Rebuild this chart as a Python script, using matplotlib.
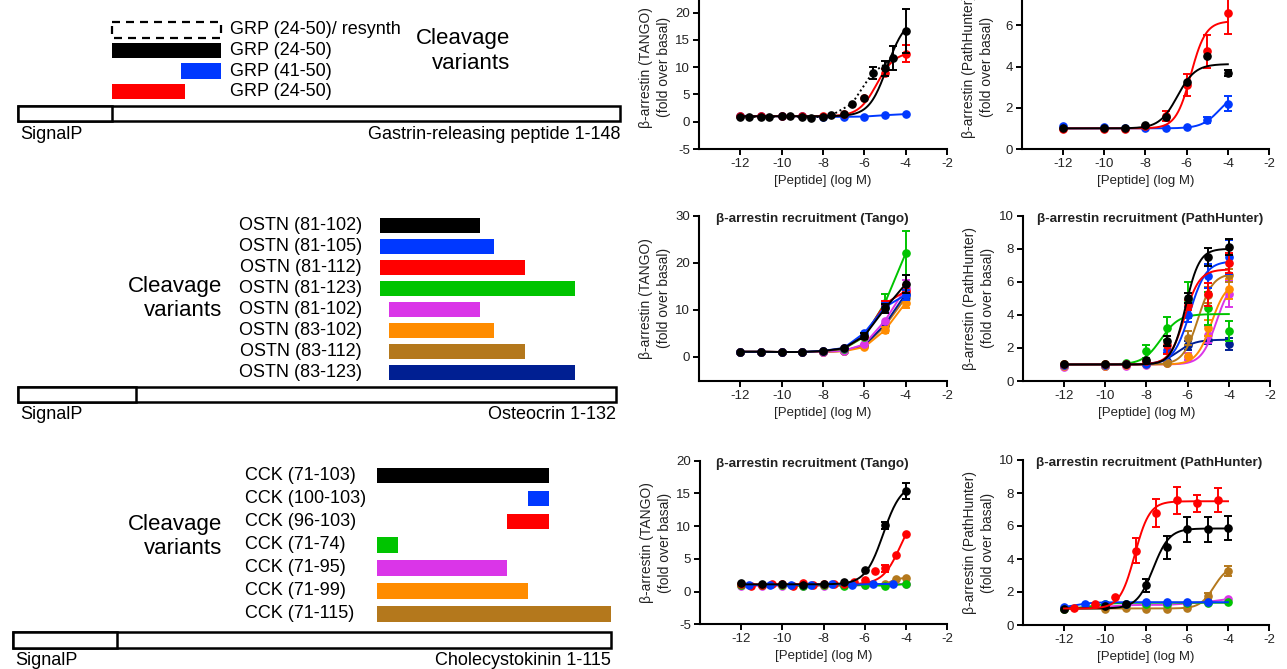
import numpy as np
import matplotlib
matplotlib.use("Agg")
import matplotlib.pyplot as plt

plt.rcParams['font.family'] = ['Liberation Sans', 'DejaVu Sans']
plt.rcParams['axes.unicode_minus'] = False

W, H = 1287, 669

BLACK = '#000000'
BLUE = '#0038FF'
RED = '#FF0000'
GREEN = '#00C400'
MAGENTA = '#DA35E8'
ORANGE = '#FF8C00'
BROWN = '#B4781C'
NAVY = '#001F92'

# ---------------- cleavage diagrams ----------------
grp_length = 148
grp_signal = 23
grp_labels = ['GRP (24-50)/ resynth', 'GRP (24-50)', 'GRP (41-50)', 'GRP (24-50)']
grp_start = [24, 24, 41, 24]
grp_end = [50, 50, 50, 41]
grp_colors = ['none', BLACK, BLUE, RED]

ostn_length = 132
ostn_signal = 26
ostn_labels = ['OSTN (81-102)', 'OSTN (81-105)', 'OSTN (81-112)', 'OSTN (81-123)',
               'OSTN (81-102)', 'OSTN (83-102)', 'OSTN (83-112)', 'OSTN (83-123)']
ostn_start = [81, 81, 81, 81, 83, 83, 83, 83]
ostn_end = [102, 105, 112, 123, 102, 105, 112, 123]
ostn_colors = [BLACK, BLUE, RED, GREEN, MAGENTA, ORANGE, BROWN, NAVY]

cck_length = 115
cck_signal = 20
cck_labels = ['CCK (71-103)', 'CCK (100-103)', 'CCK (96-103)', 'CCK (71-74)',
              'CCK (71-95)', 'CCK (71-99)', 'CCK (71-115)']
cck_start = [71, 100, 96, 71, 71, 71, 71]
cck_end = [103, 103, 103, 74, 95, 99, 115]
cck_colors = [BLACK, BLUE, RED, GREEN, MAGENTA, ORANGE, BROWN]

# ---------------- GRP dose-response ----------------
grp_x = [-12, -11, -10, -9, -8, -7, -6, -5, -4]
grp_x_resynth = [-11.6, -10.6, -9.6, -8.6, -7.6, -6.6, -5.6, -4.6]
grp_tango_black = [0.8, 0.9, 1.0, 0.9, 0.8, 1.45, 4.4, 9.8, 16.6]
grp_tango_black_err = [0, 0, 0, 0, 0, 0, 0, 1.4, 4.0]
grp_tango_black_fit = [1.0, 19.0, -4.9, 1.0]
grp_tango_resynth = [0.9, 0.9, 1.0, 0.75, 1.15, 3.3, 9.0, 11.6]
grp_tango_resynth_err = [0, 0, 0, 0, 0, 0, 1.1, 2.2]
grp_tango_red = [1.0, 1.0, 1.0, 1.1, 1.0, 1.5, 4.4, 9.0, 12.5]
grp_tango_red_err = [0, 0, 0, 0, 0, 0, 0, 0.7, 1.6]
grp_tango_red_fit = [1.0, 12.8, -5.4, 1.0]
grp_tango_blue = [1.1, 1.0, 1.0, 1.0, 0.9, 0.9, 0.95, 1.2, 1.4]

grp_ph_x = [-12, -10, -9, -8, -7, -6, -5, -4]
grp_ph_black = [1.0, 1.03, 1.0, 1.15, 1.55, 3.25, 4.5, 3.7]
grp_ph_black_err = [0, 0, 0, 0, 0, 0, 0, 0.15]
grp_ph_black_fit = [1.0, 4.12, -6.45, 1.0]
grp_ph_red = [0.95, 0.95, 0.95, 1.1, 1.6, 3.1, 4.75, 6.6]
grp_ph_red_err = [0, 0, 0, 0, 0.25, 0.55, 0.8, 1.0]
grp_ph_red_fit = [1.0, 6.2, -5.8, 1.2]
grp_ph_blue = [1.1, 1.05, 1.0, 1.02, 1.02, 1.07, 1.42, 2.2]
grp_ph_blue_err = [0, 0, 0, 0, 0, 0, 0.15, 0.35]
grp_ph_blue_fit = [1.0, 2.8, -4.4, 1.0]

# ---------------- OSTN dose-response ----------------
ostn_x = [-12, -11, -10, -9, -8, -7, -6, -5, -4]
ostn_tango_black = [1.1, 1.1, 1.05, 1.05, 1.27, 1.84, 4.46, 10.3, 15.5]
ostn_tango_black_err = [0, 0, 0, 0, 0, 0, 0.6, 1.0, 1.9]
ostn_tango_blue = [1.1, 1.1, 1.05, 1.05, 1.3, 1.9, 5.1, 10.6, 13.2]
ostn_tango_blue_err = [0, 0, 0, 0, 0, 0, 0, 0.8, 1.0]
ostn_tango_red = [1.1, 1.1, 1.05, 1.05, 1.25, 1.8, 4.5, 11.3, 14.0]
ostn_tango_red_err = [0, 0, 0, 0, 0, 0, 0, 0.5, 1.2]
ostn_tango_green = [1.1, 1.1, 1.05, 1.05, 1.25, 1.7, 4.3, 11.5, 22.0]
ostn_tango_green_err = [0, 0, 0, 0, 0, 0, 0, 1.8, 4.7]
ostn_tango_magenta = [1.1, 1.1, 1.05, 1.05, 1.1, 1.3, 2.7, 7.7, 14.6]
ostn_tango_magenta_err = [0, 0, 0, 0, 0, 0, 0, 0, 1.8]
ostn_tango_orange = [1.1, 1.1, 1.05, 1.05, 1.05, 1.2, 2.1, 5.7, 11.5]
ostn_tango_orange_err = [0, 0, 0, 0, 0, 0, 0, 0.7, 1.2]
ostn_tango_brown = [1.1, 1.1, 1.05, 1.05, 1.1, 1.3, 2.3, 6.6, 12.6]
ostn_tango_brown_err = [0, 0, 0, 0, 0, 0, 0, 0, 1.0]
ostn_tango_navy = [1.1, 1.1, 1.05, 1.05, 1.1, 1.3, 2.5, 6.9, 13.4]
ostn_tango_navy_err = [0, 0, 0, 0, 0, 0, 0, 0, 1.0]

ostn_ph_x = [-12, -10, -9, -8, -7, -6, -5, -4]
ostn_ph_black = [1.0, 1.0, 1.05, 1.3, 2.4, 5.0, 7.5, 8.1]
ostn_ph_black_err = [0, 0, 0, 0, 0.3, 0.3, 0.55, 0.5]
ostn_ph_black_fit = [1.0, 8.0, -6.1, 1.3]
ostn_ph_red = [1.0, 1.0, 1.05, 1.2, 2.2, 4.6, 5.25, 7.15]
ostn_ph_red_err = [0, 0, 0, 0, 0.55, 0.3, 0.7, 0.6]
ostn_ph_red_fit = [1.0, 6.75, -6.15, 1.2]
ostn_ph_blue = [0.95, 0.95, 1.0, 1.0, 1.9, 4.0, 6.35, 7.5]
ostn_ph_blue_err = [0, 0, 0, 0, 0.2, 0.45, 0.75, 1.0]
ostn_ph_blue_fit = [1.0, 7.25, -5.9, 1.1]
ostn_ph_green = [1.0, 1.05, 1.1, 1.8, 3.2, 4.9, 4.4, 3.05]
ostn_ph_green_err = [0, 0, 0, 0.4, 0.7, 1.1, 1.0, 0.6]
ostn_ph_green_fit = [1.0, 4.05, -7.3, 1.0]
ostn_ph_brown = [0.95, 0.95, 1.0, 1.0, 1.1, 2.6, 5.2, 6.4]
ostn_ph_brown_err = [0, 0, 0, 0, 0, 0.4, 0.5, 0.4]
ostn_ph_brown_fit = [1.0, 6.5, -5.5, 1.2]
ostn_ph_orange = [0.9, 0.9, 0.95, 1.0, 1.1, 1.5, 3.2, 5.55]
ostn_ph_orange_err = [0, 0, 0, 0, 0, 0, 0.5, 0.6]
ostn_ph_orange_fit = [1.0, 6.0, -4.85, 1.2]
ostn_ph_magenta = [0.85, 0.9, 0.9, 0.95, 1.07, 1.47, 2.8, 5.25]
ostn_ph_magenta_err = [0, 0, 0, 0, 0, 0.2, 0.5, 0.8]
ostn_ph_magenta_fit = [1.0, 6.2, -4.6, 1.2]
ostn_ph_navy = [0.9, 0.9, 0.95, 1.0, 1.2, 2.15, 2.5, 2.25]
ostn_ph_navy_err = [0, 0, 0, 0, 0, 0.3, 0.25, 0.35]
ostn_ph_navy_fit = [1.0, 2.5, -6.5, 1.0]

# ---------------- CCK dose-response ----------------
cck_x = [-12, -11, -10, -9, -8, -7, -6, -5, -4]
cck_x_half = [-12, -11.5, -11, -10.5, -10, -9.5, -9, -8.5, -8, -7.5, -7, -6.5, -6, -5.5, -5, -4.5, -4]
cck_x_blue = [-11.6, -10.6, -9.6, -8.6, -7.6, -6.6, -5.6, -4.6]
cck_x_brown = [-12, -11, -10, -9, -8, -7, -6, -5, -4.5, -4]
cck_tango_black = [1.3, 1.1, 1.1, 1.0, 1.15, 1.4, 3.35, 10.1, 15.4]
cck_tango_black_err = [0, 0, 0, 0, 0, 0, 0, 0.6, 1.2]
cck_tango_black_fit = [1.1, 16.5, -5.1, 1.0]
cck_tango_red = [1.1, 0.8, 1.0, 1.2, 1.1, 0.85, 1.3, 1.0, 1.1, 1.1, 1.2, 1.4, 1.75, 3.2, 3.55, 5.6, 8.75]
cck_tango_red_err = [0, 0, 0, 0, 0, 0, 0, 0, 0, 0, 0, 0, 0, 0, 0.5, 0, 0]
cck_tango_red_fit = [1.1, 13.0, -4.25, 1.0]
cck_tango_blue = [1.0, 1.05, 0.95, 1.05, 1.15, 1.05, 1.15, 1.15]
cck_tango_green = [1.0, 1.0, 1.0, 0.85, 1.0, 0.9, 1.0, 0.9, 1.15]
cck_tango_magenta = [0.85, 0.9, 0.9, 0.9, 0.9, 0.95, 1.0, 1.05, 1.2]
cck_tango_brown = [1.0, 1.0, 1.05, 1.05, 1.05, 1.05, 1.1, 1.1, 1.9, 2.1]

cck_ph_x = [-12, -10, -9, -8, -7, -6, -5, -4]
cck_ph_x_red = [-11.5, -10.5, -9.5, -8.5, -7.5, -6.5, -5.5, -4.5]
cck_ph_x_blue = [-12, -11, -10, -9, -8, -7, -6, -5]
cck_ph_black = [1.0, 1.15, 1.3, 2.4, 4.7, 5.8, 5.8, 5.88]
cck_ph_black_err = [0, 0, 0, 0.4, 0.7, 0.75, 0.75, 0.7]
cck_ph_black_fit = [1.0, 5.85, -7.65, 1.1]
cck_ph_red = [1.05, 1.25, 1.7, 4.5, 6.8, 7.55, 7.37, 7.57]
cck_ph_red_err = [0, 0, 0, 0.75, 0.85, 0.8, 0.5, 0.75]
cck_ph_red_fit = [1.0, 7.5, -8.55, 1.2]
cck_ph_blue = [1.1, 1.25, 1.3, 1.3, 1.37, 1.37, 1.4, 1.4]
cck_ph_blue_fit = [1.0, 1.38, -11.5, 1.0]
cck_ph_green = [1.0, 1.25, 1.3, 1.3, 1.3, 1.35, 1.35, 1.37]
cck_ph_green_fit = [1.0, 1.35, -10.5, 1.0]
cck_ph_magenta = [1.0, 1.1, 1.2, 1.22, 1.22, 1.3, 1.4, 1.57]
cck_ph_brown = [1.0, 1.0, 1.05, 1.0, 1.0, 1.05, 1.75, 3.3]
cck_ph_brown_err = [0, 0, 0, 0, 0, 0, 0.2, 0.3]
cck_ph_brown_fit = [1.0, 3.6, -4.69, 1.28]

fig = plt.figure(figsize=(W / 100, H / 100), dpi=100)


def px_axes(left, top, right, bottom):
    return fig.add_axes([left / W, 1 - bottom / H, (right - left) / W, (bottom - top) / H])


def draw_diagram(left, right, row0, step, prot_row, bar_h, prot_h, length, signal,
                 labels, starts, ends, colors, name, label_x, label_ha, cv_x, cv_row):
    ax = px_axes(left, row0 - step / 2, right, row0 + (prot_row + 0.5) * step)
    ax.set_xlim(0, length)
    ax.set_ylim(prot_row + 0.5, -0.5)
    ax.axis('off')
    starts = np.array(starts)
    ends = np.array(ends)
    rows = np.arange(len(labels))
    for r, s, e, c in zip(rows, starts, ends, colors):
        if c == 'none':
            ax.barh(r, e - s + 1, left=s - 1, height=bar_h / step, fill=False,
                    edgecolor='black', linestyle=(0, (3.6, 2.7)), linewidth=1.6)
        else:
            ax.barh(r, e - s + 1, left=s - 1, height=bar_h / step, color=c)
    ph = prot_h / step
    for width in (length, signal):
        b = ax.barh(prot_row, width, left=0, height=ph, color='white',
                    edgecolor='black', linewidth=1.8)
        for p in b:
            p.set_clip_on(False)
    for r, lab in zip(rows, labels):
        ax.text(label_x, r, lab, ha=label_ha, va='center', fontsize=13)
    ax.text(cv_x, cv_row, 'Cleavage\nvariants', ha='right', va='center',
            fontsize=16, linespacing=1.2)
    ax.annotate('SignalP', xy=(0, prot_row + ph / 2), xytext=(1.5, -9.5),
                textcoords='offset points', ha='left', va='center', fontsize=13)
    ax.annotate(name, xy=(length, prot_row + ph / 2), xytext=(0, -9.5),
                textcoords='offset points', ha='right', va='center', fontsize=13)


draw_diagram(18, 620, 30, 20.5, 4.08, 15.5, 15.5, grp_length, grp_signal,
             grp_labels, grp_start, grp_end, grp_colors,
             'Gastrin-releasing peptide 1-148', 52.1, 'left', 120.9, 1.02)
draw_diagram(18, 616, 225.2, 21.0, 8.05, 15, 15, ostn_length, ostn_signal,
             ostn_labels, ostn_start, ostn_end, ostn_colors,
             'Osteocrin 1-132', 75.9, 'right', 45.0, 3.48)
draw_diagram(13, 611, 475.5, 23.05, 7.12, 15.7, 16, cck_length, cck_signal,
             cck_labels, cck_start, cck_end, cck_colors,
             'Cholecystokinin 1-115', 44.6, 'left', 40.2, 2.65)


def panel(left, top, right, bottom, ylim, yticks, ylabel, title=None, title_x=0.5):
    ax = px_axes(left, top, right, bottom)
    ax.set_xlim(-14, -2)
    ax.set_xticks(range(-12, -1, 2))
    ax.set_ylim(*ylim)
    ax.set_yticks(yticks)
    for sp in ('top', 'right'):
        ax.spines[sp].set_visible(False)
    for sp in ('left', 'bottom'):
        ax.spines[sp].set_linewidth(1.5)
    ax.tick_params(direction='out', length=4, width=1.4, labelsize=9.5,
                   labelcolor='#222222', pad=2.5)
    ax.set_xlabel('[Peptide] (log M)', fontsize=9.5, color='#222222')
    ax.xaxis.set_label_coords(0.5, -32 / (bottom - top))
    ax.xaxis.label.set_va('center')
    ax.set_ylabel(ylabel + '\n(fold over basal)', fontsize=10, linespacing=1.35,
                  color='#222222')
    ax.yaxis.set_label_coords(-44 / (right - left), 0.5)
    ax.yaxis.label.set_va('center')
    if title:
        ax.text(title_x, 0.98, title, transform=ax.transAxes, ha='center', va='center',
                fontsize=9.7, fontweight='bold', color='#222222')
    return ax


def series(ax, x, y, color, err=None, fit=None, ls='-', z=2):
    x = np.asarray(x, dtype=float)
    y = np.asarray(y, dtype=float)
    if fit is not None:
        b, t, e, h = fit
        xs = np.linspace(-12, -4, 200)
        ax.plot(xs, b + (t - b) / (1 + 10 ** ((e - xs) * h)), color=color, lw=1.4, zorder=z)
    else:
        ax.plot(x, y, color=color, lw=1.4, ls=ls, zorder=z)
    if err is not None:
        err = np.asarray(err, dtype=float)
        m = err > 0
        if m.any():
            ax.errorbar(x[m], y[m], yerr=err[m], fmt='none', ecolor=color, elinewidth=1.4,
                        capsize=3, capthick=1.4, zorder=z)
    ax.plot(x, y, 'o', color=color, ms=5.2, zorder=z + 0.1, clip_on=False)


TANGO = '\u03b2-arrestin (TANGO)'
PH = '\u03b2-arrestin (PathHunter)'

# GRP (top of these two axes runs past the figure edge, as in the original)
ax = panel(699, -14.6, 947, 149, (-5, 25), range(-5, 21, 5), TANGO)
series(ax, grp_x, grp_tango_blue, BLUE, z=2)
series(ax, grp_x, grp_tango_red, RED, grp_tango_red_err, grp_tango_red_fit, z=3)
series(ax, grp_x_resynth, grp_tango_resynth, BLACK, grp_tango_resynth_err, ls=(0, (1, 1.5)), z=4)
series(ax, grp_x, grp_tango_black, BLACK, grp_tango_black_err, grp_tango_black_fit, z=5)

ax = panel(1022, -16, 1269, 149, (0, 8), range(0, 7, 2), PH)
series(ax, grp_ph_x, grp_ph_blue, BLUE, grp_ph_blue_err, grp_ph_blue_fit, z=2)
series(ax, grp_ph_x, grp_ph_red, RED, grp_ph_red_err, grp_ph_red_fit, z=3)
series(ax, grp_ph_x, grp_ph_black, BLACK, grp_ph_black_err, grp_ph_black_fit, z=4)

# OSTN
ax = panel(699, 215.7, 947, 380.5, (-5, 30), range(0, 31, 10), TANGO,
           '\u03b2-arrestin recruitment (Tango)', 0.456)
for i, (vals, errs, c) in enumerate([
        (ostn_tango_brown, ostn_tango_brown_err, BROWN),
        (ostn_tango_navy, ostn_tango_navy_err, NAVY),
        (ostn_tango_orange, ostn_tango_orange_err, ORANGE),
        (ostn_tango_magenta, ostn_tango_magenta_err, MAGENTA),
        (ostn_tango_green, ostn_tango_green_err, GREEN),
        (ostn_tango_red, ostn_tango_red_err, RED),
        (ostn_tango_blue, ostn_tango_blue_err, BLUE),
        (ostn_tango_black, ostn_tango_black_err, BLACK)]):
    series(ax, ostn_x, vals, c, errs, z=2 + i)

ax = panel(1023, 215.7, 1270, 381, (0, 10), range(0, 11, 2), PH,
           '\u03b2-arrestin recruitment (PathHunter)', 0.513)
for i, (vals, errs, fit, c) in enumerate([
        (ostn_ph_navy, ostn_ph_navy_err, ostn_ph_navy_fit, NAVY),
        (ostn_ph_magenta, ostn_ph_magenta_err, ostn_ph_magenta_fit, MAGENTA),
        (ostn_ph_orange, ostn_ph_orange_err, ostn_ph_orange_fit, ORANGE),
        (ostn_ph_brown, ostn_ph_brown_err, ostn_ph_brown_fit, BROWN),
        (ostn_ph_green, ostn_ph_green_err, ostn_ph_green_fit, GREEN),
        (ostn_ph_blue, ostn_ph_blue_err, ostn_ph_blue_fit, BLUE),
        (ostn_ph_red, ostn_ph_red_err, ostn_ph_red_fit, RED),
        (ostn_ph_black, ostn_ph_black_err, ostn_ph_black_fit, BLACK)]):
    series(ax, ostn_ph_x, vals, c, errs, fit, z=2 + i)

# CCK
ax = panel(700, 460.7, 947, 624.3, (-5, 20), range(-5, 21, 5), TANGO,
           '\u03b2-arrestin recruitment (Tango)', 0.453)
series(ax, cck_x, cck_tango_magenta, MAGENTA, z=2)
series(ax, cck_x_brown, cck_tango_brown, BROWN, z=3)
series(ax, cck_x, cck_tango_green, GREEN, z=4)
series(ax, cck_x_half, cck_tango_red, RED, cck_tango_red_err, cck_tango_red_fit, z=5)
series(ax, cck_x_blue, cck_tango_blue, BLUE, z=6)
series(ax, cck_x, cck_tango_black, BLACK, cck_tango_black_err, cck_tango_black_fit, z=7)

ax = panel(1023, 460, 1269, 625, (0, 10), range(0, 11, 2), PH,
           '\u03b2-arrestin recruitment (PathHunter)', 0.513)
series(ax, cck_ph_x, cck_ph_magenta, MAGENTA, z=2)
series(ax, cck_ph_x, cck_ph_brown, BROWN, cck_ph_brown_err, cck_ph_brown_fit, z=3)
series(ax, cck_ph_x, cck_ph_green, GREEN, fit=cck_ph_green_fit, z=4)
series(ax, cck_ph_x_blue, cck_ph_blue, BLUE, fit=cck_ph_blue_fit, z=5)
series(ax, cck_ph_x, cck_ph_black, BLACK, cck_ph_black_err, cck_ph_black_fit, z=6)
series(ax, cck_ph_x_red, cck_ph_red, RED, cck_ph_red_err, cck_ph_red_fit, z=7)

fig.savefig('out.png', dpi=100)
